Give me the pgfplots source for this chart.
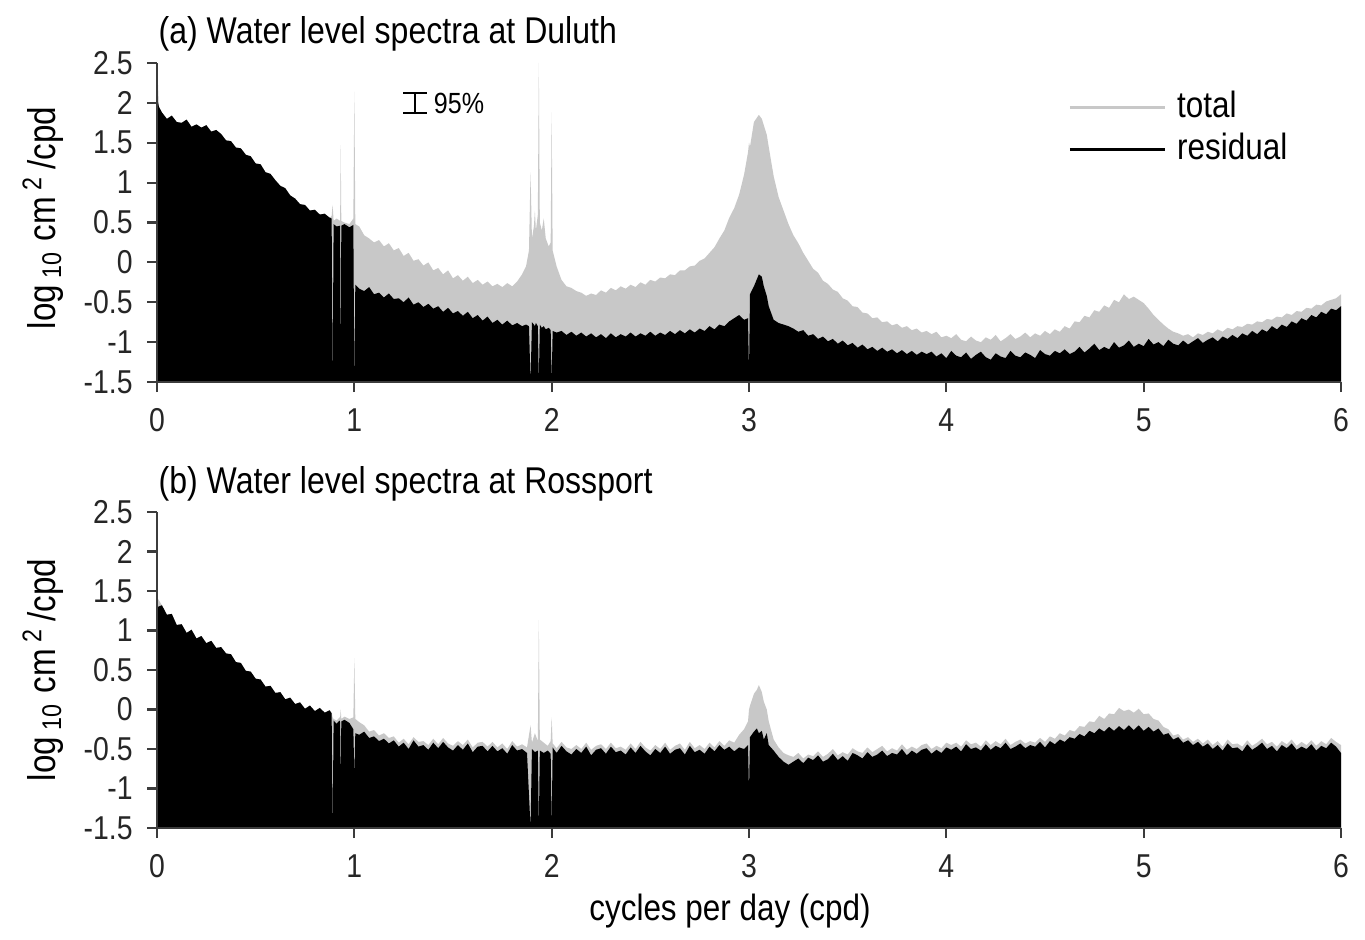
\documentclass[border=0pt]{standalone}
\usepackage{fontspec}
\setmainfont{Liberation Sans}[FakeStretch=0.86]
\usepackage{pgfplots}
\usepackage{pgfplotstable}
\pgfplotsset{compat=1.18}
\usepgfplotslibrary{fillbetween}

\definecolor{totgray}{RGB}{200,200,200}
\definecolor{axgray}{RGB}{60,60,60}

% columns: frequency (cpd), total spectrum, residual spectrum (log10 cm^2/cpd)
\pgfplotstableread{
x tot res
0.000 2.50 2.06
0.010 1.95 1.95
0.025 1.88 1.88
0.050 1.80 1.80
0.075 1.84 1.84
0.100 1.76 1.76
0.125 1.75 1.75
0.150 1.79 1.79
0.175 1.70 1.70
0.200 1.73 1.73
0.225 1.69 1.69
0.250 1.72 1.72
0.275 1.64 1.64
0.300 1.66 1.66
0.325 1.61 1.61
0.350 1.53 1.53
0.375 1.52 1.52
0.400 1.44 1.44
0.425 1.43 1.43
0.450 1.35 1.35
0.475 1.33 1.33
0.500 1.24 1.24
0.525 1.23 1.23
0.550 1.13 1.13
0.575 1.11 1.11
0.600 1.03 1.03
0.625 0.96 0.96
0.650 0.93 0.93
0.675 0.84 0.84
0.700 0.80 0.80
0.725 0.73 0.73
0.750 0.72 0.72
0.775 0.65 0.65
0.800 0.66 0.66
0.825 0.60 0.60
0.850 0.61 0.61
0.875 0.56 0.56
0.885 0.58 0.55
0.890 0.72 -1.50
0.895 0.52 0.48
0.910 0.55 0.45
0.928 0.52 0.46
0.931 1.47 -1.50
0.934 0.52 0.46
0.950 0.50 0.48
0.975 0.48 0.44
0.995 0.55 0.47
1.000 2.14 -1.50
1.005 0.48 -0.28
1.025 0.45 -0.33
1.050 0.34 -0.36
1.075 0.30 -0.31
1.100 0.25 -0.40
1.125 0.28 -0.38
1.150 0.20 -0.44
1.175 0.24 -0.39
1.200 0.15 -0.46
1.225 0.18 -0.45
1.250 0.08 -0.50
1.275 0.12 -0.44
1.300 0.02 -0.53
1.325 0.04 -0.50
1.350 -0.04 -0.56
1.375 0.00 -0.52
1.400 -0.10 -0.58
1.425 -0.07 -0.55
1.450 -0.15 -0.62
1.475 -0.10 -0.57
1.500 -0.20 -0.64
1.525 -0.16 -0.61
1.550 -0.23 -0.67
1.575 -0.18 -0.62
1.600 -0.26 -0.70
1.625 -0.22 -0.66
1.650 -0.28 -0.73
1.675 -0.24 -0.68
1.700 -0.30 -0.76
1.725 -0.27 -0.72
1.750 -0.31 -0.78
1.775 -0.26 -0.73
1.800 -0.30 -0.79
1.825 -0.24 -0.76
1.850 -0.15 -0.80
1.870 -0.05 -0.78
1.885 0.15 -0.80
1.893 1.13 -1.50
1.900 0.30 -0.75
1.910 0.45 -0.78
1.915 0.65 -0.80
1.920 0.40 -0.76
1.930 0.60 -0.80
1.935 2.50 -1.50
1.940 0.50 -0.78
1.950 0.40 -0.82
1.960 0.55 -0.80
1.970 0.30 -0.84
1.985 0.20 -0.82
1.995 0.25 -0.85
2.000 1.88 -1.50
2.005 0.15 -0.86
2.025 -0.05 -0.88
2.050 -0.22 -0.86
2.075 -0.30 -0.91
2.100 -0.32 -0.87
2.125 -0.36 -0.92
2.150 -0.38 -0.88
2.175 -0.42 -0.93
2.200 -0.39 -0.89
2.225 -0.41 -0.94
2.250 -0.35 -0.90
2.275 -0.38 -0.95
2.300 -0.32 -0.89
2.325 -0.35 -0.94
2.350 -0.30 -0.90
2.375 -0.33 -0.93
2.400 -0.28 -0.88
2.425 -0.31 -0.93
2.450 -0.25 -0.89
2.475 -0.28 -0.92
2.500 -0.22 -0.87
2.525 -0.24 -0.92
2.550 -0.19 -0.88
2.575 -0.20 -0.91
2.600 -0.15 -0.86
2.625 -0.16 -0.90
2.650 -0.10 -0.85
2.675 -0.10 -0.89
2.700 -0.05 -0.84
2.725 -0.04 -0.88
2.750 0.02 -0.83
2.775 0.05 -0.86
2.800 0.12 -0.80
2.825 0.19 -0.84
2.850 0.30 -0.78
2.875 0.40 -0.80
2.900 0.56 -0.74
2.925 0.68 -0.70
2.950 0.85 -0.66
2.975 1.10 -0.72
2.995 1.38 -0.70
3.000 1.50 -1.40
3.005 1.45 -0.40
3.025 1.76 -0.30
3.050 1.85 -0.15
3.065 1.80 -0.18
3.075 1.72 -0.30
3.090 1.60 -0.42
3.100 1.45 -0.55
3.125 1.08 -0.72
3.150 0.82 -0.76
3.175 0.65 -0.78
3.200 0.48 -0.80
3.225 0.34 -0.83
3.250 0.24 -0.87
3.275 0.12 -0.85
3.300 0.02 -0.92
3.325 -0.08 -0.90
3.350 -0.13 -0.96
3.375 -0.23 -0.93
3.400 -0.27 -0.99
3.425 -0.34 -0.96
3.450 -0.37 -1.02
3.475 -0.45 -0.98
3.500 -0.48 -1.04
3.525 -0.55 -1.01
3.550 -0.56 -1.07
3.575 -0.63 -1.03
3.600 -0.64 -1.09
3.625 -0.70 -1.06
3.650 -0.69 -1.11
3.675 -0.75 -1.07
3.700 -0.74 -1.12
3.725 -0.79 -1.09
3.750 -0.77 -1.14
3.775 -0.82 -1.10
3.800 -0.80 -1.15
3.825 -0.85 -1.11
3.850 -0.83 -1.16
3.875 -0.88 -1.12
3.900 -0.86 -1.15
3.925 -0.90 -1.12
3.950 -0.87 -1.18
3.975 -0.94 -1.14
4.000 -0.92 -1.20
4.025 -0.95 -1.11
4.050 -0.90 -1.17
4.075 -0.97 -1.19
4.100 -0.99 -1.13
4.125 -0.93 -1.21
4.150 -0.98 -1.16
4.175 -1.00 -1.12
4.200 -0.94 -1.19
4.225 -0.97 -1.22
4.250 -0.91 -1.14
4.275 -0.99 -1.18
4.300 -0.95 -1.20
4.325 -0.90 -1.11
4.350 -0.96 -1.17
4.375 -0.93 -1.19
4.400 -0.88 -1.13
4.425 -0.94 -1.16
4.450 -0.89 -1.20
4.475 -0.92 -1.10
4.500 -0.86 -1.15
4.525 -0.90 -1.17
4.550 -0.84 -1.11
4.575 -0.87 -1.14
4.600 -0.80 -1.09
4.625 -0.83 -1.15
4.650 -0.74 -1.12
4.675 -0.75 -1.06
4.700 -0.67 -1.13
4.725 -0.69 -1.08
4.750 -0.60 -1.02
4.775 -0.62 -1.10
4.800 -0.54 -1.06
4.825 -0.57 -1.09
4.850 -0.47 -1.00
4.875 -0.50 -1.07
4.900 -0.40 -1.04
4.925 -0.46 -0.98
4.950 -0.43 -1.06
4.975 -0.47 -1.02
5.000 -0.51 -1.05
5.025 -0.58 -0.96
5.050 -0.66 -1.03
5.075 -0.72 -1.00
5.100 -0.78 -1.05
5.125 -0.83 -0.97
5.150 -0.87 -1.02
5.175 -0.89 -1.04
5.200 -0.92 -0.98
5.225 -0.90 -1.03
5.250 -0.94 -0.99
5.275 -0.89 -0.95
5.300 -0.91 -1.01
5.325 -0.87 -0.97
5.350 -0.89 -0.94
5.375 -0.84 -0.99
5.400 -0.87 -0.93
5.425 -0.82 -0.96
5.450 -0.84 -0.91
5.475 -0.80 -0.95
5.500 -0.81 -0.89
5.525 -0.77 -0.92
5.550 -0.78 -0.86
5.575 -0.74 -0.90
5.600 -0.75 -0.84
5.625 -0.71 -0.87
5.650 -0.72 -0.80
5.675 -0.68 -0.84
5.700 -0.69 -0.78
5.725 -0.64 -0.81
5.750 -0.66 -0.74
5.775 -0.61 -0.77
5.800 -0.62 -0.70
5.825 -0.57 -0.73
5.850 -0.58 -0.66
5.875 -0.53 -0.69
5.900 -0.54 -0.62
5.925 -0.49 -0.65
5.950 -0.47 -0.58
5.975 -0.45 -0.60
6.000 -0.40 -0.55
}\duluth

\pgfplotstableread{
x tot res
0.000 2.00 1.36
0.005 1.40 1.30
0.025 1.32 1.32
0.050 1.20 1.20
0.075 1.21 1.21
0.100 1.07 1.07
0.125 1.08 1.08
0.150 0.97 0.97
0.175 1.01 1.01
0.200 0.90 0.90
0.225 0.93 0.93
0.250 0.84 0.84
0.275 0.87 0.87
0.300 0.78 0.78
0.325 0.79 0.79
0.350 0.71 0.71
0.375 0.70 0.70
0.400 0.60 0.60
0.425 0.59 0.59
0.450 0.49 0.49
0.475 0.48 0.48
0.500 0.39 0.39
0.525 0.38 0.38
0.550 0.29 0.29
0.575 0.30 0.30
0.600 0.21 0.21
0.625 0.22 0.22
0.650 0.13 0.13
0.675 0.15 0.15
0.700 0.07 0.07
0.725 0.09 0.09
0.750 0.01 0.01
0.775 0.05 0.05
0.800 -0.02 -0.02
0.825 0.02 0.02
0.850 -0.04 -0.04
0.875 -0.01 -0.01
0.885 -0.04 -0.05
0.890 -0.10 -1.50
0.895 -0.12 -0.14
0.910 -0.14 -0.18
0.925 -0.10 -0.14
0.928 -0.10 -0.16
0.931 0.00 -1.00
0.934 -0.12 -0.15
0.950 -0.09 -0.13
0.975 -0.12 -0.17
0.995 -0.10 -0.25
1.000 0.65 -0.83
1.005 -0.12 -0.30
1.025 -0.16 -0.32
1.050 -0.20 -0.28
1.075 -0.28 -0.36
1.100 -0.26 -0.34
1.125 -0.33 -0.40
1.150 -0.30 -0.37
1.175 -0.36 -0.43
1.200 -0.34 -0.39
1.225 -0.42 -0.47
1.250 -0.37 -0.42
1.275 -0.44 -0.50
1.300 -0.35 -0.39
1.325 -0.41 -0.47
1.350 -0.40 -0.45
1.375 -0.45 -0.51
1.400 -0.37 -0.42
1.425 -0.44 -0.49
1.450 -0.36 -0.41
1.475 -0.43 -0.48
1.500 -0.46 -0.52
1.525 -0.40 -0.45
1.550 -0.45 -0.51
1.575 -0.38 -0.43
1.600 -0.48 -0.54
1.625 -0.42 -0.47
1.650 -0.41 -0.46
1.675 -0.47 -0.53
1.700 -0.41 -0.46
1.725 -0.48 -0.53
1.750 -0.43 -0.49
1.775 -0.50 -0.56
1.800 -0.40 -0.45
1.825 -0.47 -0.52
1.850 -0.44 -0.50
1.875 -0.48 -0.55
1.893 -0.20 -1.50
1.900 -0.42 -0.50
1.915 -0.30 -0.54
1.930 -0.40 -0.52
1.935 1.13 -1.50
1.940 -0.38 -0.52
1.960 -0.42 -0.55
1.980 -0.46 -0.52
1.995 -0.40 -0.56
2.000 -0.10 -1.50
2.005 -0.43 -0.48
2.025 -0.49 -0.55
2.050 -0.41 -0.46
2.075 -0.48 -0.53
2.100 -0.50 -0.57
2.125 -0.45 -0.50
2.150 -0.50 -0.55
2.175 -0.42 -0.47
2.200 -0.51 -0.58
2.225 -0.46 -0.51
2.250 -0.44 -0.49
2.275 -0.50 -0.56
2.300 -0.42 -0.47
2.325 -0.49 -0.54
2.350 -0.47 -0.52
2.375 -0.51 -0.57
2.400 -0.43 -0.48
2.425 -0.50 -0.55
2.450 -0.41 -0.46
2.475 -0.48 -0.53
2.500 -0.52 -0.58
2.525 -0.45 -0.50
2.550 -0.50 -0.55
2.575 -0.42 -0.47
2.600 -0.51 -0.56
2.625 -0.46 -0.51
2.650 -0.43 -0.49
2.675 -0.51 -0.57
2.700 -0.41 -0.46
2.725 -0.49 -0.54
2.750 -0.45 -0.51
2.775 -0.50 -0.56
2.800 -0.42 -0.47
2.825 -0.48 -0.53
2.850 -0.40 -0.45
2.875 -0.46 -0.51
2.900 -0.39 -0.47
2.925 -0.42 -0.53
2.950 -0.32 -0.48
2.975 -0.25 -0.50
2.995 -0.15 -0.45
3.000 0.00 -1.05
3.005 0.05 -0.35
3.025 0.20 -0.28
3.040 0.25 -0.24
3.050 0.31 -0.30
3.065 0.22 -0.27
3.075 0.10 -0.38
3.090 0.00 -0.30
3.100 -0.15 -0.45
3.125 -0.38 -0.52
3.150 -0.48 -0.60
3.175 -0.55 -0.66
3.200 -0.58 -0.70
3.225 -0.60 -0.66
3.250 -0.55 -0.62
3.275 -0.62 -0.68
3.300 -0.57 -0.61
3.325 -0.59 -0.64
3.350 -0.53 -0.58
3.375 -0.60 -0.66
3.400 -0.56 -0.63
3.425 -0.50 -0.56
3.450 -0.58 -0.64
3.475 -0.54 -0.59
3.500 -0.57 -0.65
3.525 -0.49 -0.55
3.550 -0.53 -0.58
3.575 -0.55 -0.62
3.600 -0.48 -0.54
3.625 -0.54 -0.60
3.650 -0.50 -0.57
3.675 -0.46 -0.52
3.700 -0.53 -0.59
3.725 -0.49 -0.55
3.750 -0.52 -0.57
3.775 -0.44 -0.50
3.800 -0.51 -0.58
3.825 -0.47 -0.52
3.850 -0.50 -0.56
3.875 -0.45 -0.51
3.900 -0.43 -0.49
3.925 -0.50 -0.56
3.950 -0.46 -0.51
3.975 -0.49 -0.55
4.000 -0.42 -0.48
4.025 -0.45 -0.51
4.050 -0.42 -0.47
4.075 -0.47 -0.53
4.100 -0.39 -0.44
4.125 -0.44 -0.50
4.150 -0.42 -0.48
4.175 -0.47 -0.52
4.200 -0.39 -0.44
4.225 -0.45 -0.51
4.250 -0.40 -0.46
4.275 -0.44 -0.49
4.300 -0.37 -0.42
4.325 -0.45 -0.50
4.350 -0.41 -0.47
4.375 -0.38 -0.43
4.400 -0.43 -0.49
4.425 -0.40 -0.45
4.450 -0.42 -0.47
4.475 -0.36 -0.41
4.500 -0.41 -0.48
4.525 -0.34 -0.40
4.550 -0.37 -0.44
4.575 -0.30 -0.38
4.600 -0.33 -0.41
4.625 -0.26 -0.35
4.650 -0.28 -0.37
4.675 -0.21 -0.31
4.700 -0.22 -0.34
4.725 -0.15 -0.27
4.750 -0.16 -0.30
4.775 -0.08 -0.24
4.800 -0.12 -0.28
4.825 -0.05 -0.22
4.850 -0.06 -0.27
4.875 0.02 -0.21
4.900 -0.02 -0.26
4.925 0.00 -0.20
4.950 -0.04 -0.26
4.975 0.01 -0.20
5.000 -0.06 -0.27
5.025 -0.05 -0.22
5.050 -0.12 -0.28
5.075 -0.14 -0.24
5.100 -0.22 -0.32
5.125 -0.25 -0.30
5.150 -0.33 -0.38
5.175 -0.31 -0.35
5.200 -0.38 -0.42
5.225 -0.35 -0.39
5.250 -0.41 -0.45
5.275 -0.37 -0.41
5.300 -0.43 -0.47
5.325 -0.38 -0.43
5.350 -0.45 -0.50
5.375 -0.40 -0.45
5.400 -0.47 -0.52
5.425 -0.38 -0.43
5.450 -0.44 -0.49
5.475 -0.43 -0.48
5.500 -0.47 -0.53
5.525 -0.39 -0.44
5.550 -0.46 -0.51
5.575 -0.42 -0.47
5.600 -0.37 -0.42
5.625 -0.44 -0.50
5.650 -0.41 -0.46
5.675 -0.47 -0.53
5.700 -0.40 -0.45
5.725 -0.44 -0.49
5.750 -0.38 -0.43
5.775 -0.46 -0.51
5.800 -0.41 -0.47
5.825 -0.45 -0.50
5.850 -0.39 -0.44
5.875 -0.46 -0.52
5.900 -0.40 -0.46
5.925 -0.44 -0.49
5.950 -0.36 -0.42
5.975 -0.41 -0.47
6.000 -0.45 -0.55
}\rossport

\pgfplotsset{
  spec/.style={
    scale only axis, width=11.84cm,
    xmin=0, xmax=6, ymin=-1.5, ymax=2.5,
    axis x line*=bottom, axis y line*=left,
    xtick={0,1,2,3,4,5,6},
    ytick={-1.5,-1,-0.5,0,0.5,1,1.5,2,2.5},
    tick align=outside, major tick length=0.1cm,
    axis line style={draw=axgray, line width=0.6pt},
    tick style={draw=axgray, line width=0.6pt},
    ticklabel style={font=\fontsize{9.4}{10}\selectfont, text=black!85},
    xticklabel style={yshift=-0.04cm},
    yticklabel style={xshift=-0.02cm},
    /pgf/number format/assume math mode=true,
    axis on top,
  },
}

\begin{document}
\begin{tikzpicture}
\path (0,0) rectangle (13.65,9.35);

% (a) Duluth
\begin{axis}[spec, height=3.19cm, at={(1.57cm,5.53cm)}, anchor=south west,
  legend style={draw=none, fill=none, at={(axis cs:4.615,2.24)}, anchor=north west,
    font=\fontsize{10.4}{11}\selectfont, row sep=-0.04cm, column sep=0.04cm, inner sep=0pt},
  legend cell align=left,
  legend image code/.code={\draw[#1, line width=0.8pt] (0cm,0cm) -- (0.95cm,0cm);}]
\addlegendimage{totgray}
\addlegendentry{total}
\addlegendimage{black}
\addlegendentry{residual}
\addplot[forget plot, draw=none, name path=ta] table[x=x, y=tot] {\duluth};
\addplot[forget plot, draw=none, name path=ra] table[x=x, y=res] {\duluth};
\addplot[forget plot, draw=none, name path=ba] coordinates {(0,-1.5) (6,-1.5)};
\addplot[forget plot, fill=totgray] fill between[of=ta and ba];
\addplot[forget plot, fill=black] fill between[of=ra and ba];
\draw[line width=0.6pt] (axis cs:1.307,1.877) -- (axis cs:1.307,2.128)
  (axis cs:1.247,1.877) -- (axis cs:1.368,1.877)
  (axis cs:1.247,2.128) -- (axis cs:1.368,2.128);
\node[anchor=west, inner sep=0pt, font=\fontsize{8.3}{9}\selectfont]
  at (axis cs:1.40,1.99) {95\%};
\end{axis}

% (b) Rossport
\begin{axis}[spec, height=3.16cm, at={(1.57cm,1.07cm)}, anchor=south west]
\addplot[forget plot, draw=none, name path=tb] table[x=x, y=tot] {\rossport};
\addplot[forget plot, draw=none, name path=rb] table[x=x, y=res] {\rossport};
\addplot[forget plot, draw=none, name path=bb] coordinates {(0,-1.5) (6,-1.5)};
\addplot[forget plot, fill=totgray] fill between[of=tb and bb];
\addplot[forget plot, fill=black] fill between[of=rb and bb];
\end{axis}

\node[anchor=west, inner sep=0pt, font=\fontsize{10.6}{12}\selectfont]
  at (1.58,9.01) {(a) Water level spectra at Duluth};
\node[anchor=west, inner sep=0pt, font=\fontsize{10.6}{12}\selectfont]
  at (1.58,4.51) {(b) Water level spectra at Rossport};
\node[font=\fontsize{10.4}{11}\selectfont] at (7.30,0.24) {cycles per day (cpd)};
\node[rotate=90, font=\fontsize{11}{12}\selectfont] at (0.43,7.17)
  {log\,\textsubscript{10}\ cm\,\textsuperscript{2}\,/cpd};
\node[rotate=90, font=\fontsize{11}{12}\selectfont] at (0.43,2.65)
  {log\,\textsubscript{10}\ cm\,\textsuperscript{2}\,/cpd};
\end{tikzpicture}
\end{document}
